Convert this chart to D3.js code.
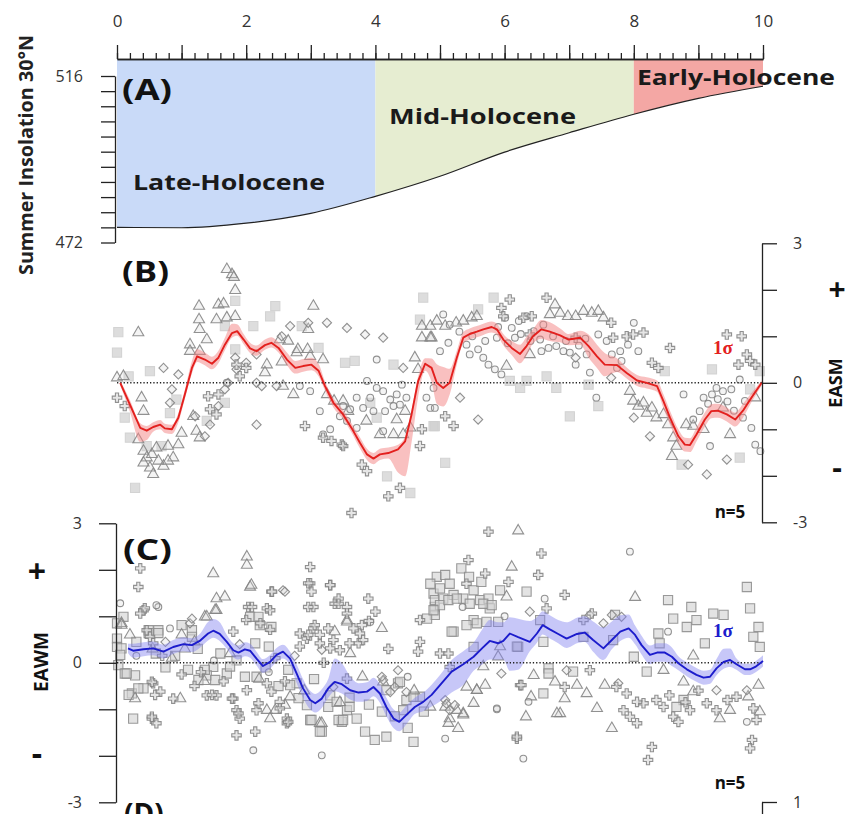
<!DOCTYPE html>
<html>
<head>
  <meta charset="UTF-8">
  <style>
    body { margin: 0; background: #fff; }
    text { font-family: "Open Sans", sans-serif; }
  </style>
</head>
<body>
<div id="chart"></div>
<script src="https://d3js.org/d3.v7.min.js"></script>
<script>

// ---- data (ka BP) ----

// summer insolation 30N
var insTime = [0, 1, 2, 3, 4, 5, 6, 7, 8, 9, 10];
var insValue = [476.0, 475.9, 477.1, 479.7, 484.2, 489.5, 495.9, 501.0, 505.9, 510.1, 513.3];

var periods = ["Late-Holocene", "Mid-Holocene", "Early-Holocene"];
var periodStart = [0, 4, 8];
var periodEnd = [4, 8, 10];

// EASM stack (panel B)
var easmTime = [0.05,0.2,0.36,0.46,0.56,0.67,0.74,0.85,0.95,1.05,1.16,1.24,1.36,1.47,1.57,1.67,1.78,1.86,1.96,2.06,
  2.16,2.29,2.39,2.5,2.63,2.76,2.88,3.01,3.12,3.22,3.35,3.5,3.63,3.76,3.87,3.97,4.07,4.2,4.35,4.46,
  4.56,4.66,4.77,4.87,4.95,5.05,5.15,5.26,5.36,5.46,5.57,5.67,5.8,5.88,5.98,6.11,6.24,6.34,6.44,6.57,
  6.7,6.86,6.99,7.17,7.3,7.43,7.55,7.74,7.89,8.05,8.2,8.36,8.46,8.56,8.69,8.79,8.87,8.97,9.1,9.2,
  9.3,9.44,9.57,9.69,9.82,9.98];
var easmMean = [0.0,-0.47,-0.97,-1.03,-0.95,-0.9,-0.98,-1.0,-0.75,-0.25,0.32,0.57,0.5,0.41,0.54,0.82,1.07,1.11,0.93,0.74,
  0.68,0.81,0.86,0.75,0.5,0.32,0.36,0.39,0.26,-0.07,-0.43,-0.68,-0.97,-1.29,-1.54,-1.63,-1.54,-1.51,-1.43,-1.26,
  -0.68,0.03,0.41,0.32,0.0,-0.11,0.0,0.54,0.97,1.05,1.1,1.15,1.2,1.15,0.93,0.75,0.62,0.79,1.0,1.15,
  1.1,1.02,0.93,0.97,0.79,0.57,0.39,0.38,0.21,0.05,0.0,-0.07,-0.4,-0.75,-1.15,-1.33,-1.34,-1.11,-0.79,-0.61,
  -0.6,-0.68,-0.79,-0.6,-0.32,0.0];
var easmSdLo = [0.05,0.15,0.3,0.2,0.1,0.1,0.1,0.1,0.1,0.1,0.12,0.12,0.12,0.12,0.12,0.12,0.1,0.1,0.1,0.1,
  0.1,0.1,0.1,0.1,0.12,0.12,0.12,0.12,0.12,0.1,0.1,0.1,0.1,0.12,0.12,0.12,0.12,0.12,0.5,0.75,
  0.6,0.35,0.15,0.3,0.45,0.4,0.25,0.15,0.12,0.12,0.12,0.12,0.12,0.12,0.12,0.15,0.2,0.2,0.15,0.2,
  0.2,0.15,0.12,0.15,0.25,0.25,0.25,0.15,0.12,0.12,0.12,0.12,0.15,0.15,0.15,0.15,0.15,0.15,0.15,0.15,
  0.15,0.15,0.15,0.15,0.1,0.05];
var easmSdHi = [0.05,0.1,0.1,0.1,0.1,0.1,0.1,0.1,0.1,0.1,0.15,0.15,0.15,0.15,0.15,0.15,0.2,0.15,0.12,0.12,
  0.12,0.12,0.12,0.12,0.15,0.15,0.15,0.15,0.15,0.1,0.1,0.1,0.1,0.12,0.12,0.12,0.12,0.12,0.1,0.1,
  0.1,0.1,0.12,0.2,0.4,0.45,0.3,0.15,0.12,0.12,0.12,0.12,0.12,0.12,0.12,0.15,0.2,0.2,0.15,0.2,
  0.2,0.15,0.12,0.15,0.25,0.25,0.25,0.15,0.12,0.12,0.12,0.12,0.15,0.15,0.15,0.15,0.15,0.15,0.15,0.15,
  0.15,0.15,0.15,0.15,0.1,0.05];

// EAWM stack (panel C)
var eawmTime = [0.17,0.25,0.41,0.56,0.72,0.87,1.03,1.16,1.28,1.41,1.49,1.59,1.7,1.8,1.88,1.98,2.06,2.16,2.26,2.37,
  2.47,2.57,2.68,2.78,2.88,2.99,3.07,3.17,3.27,3.37,3.48,3.61,3.74,3.87,3.97,4.07,4.17,4.28,4.37,4.48,
  4.61,4.74,4.87,5.0,5.18,5.36,5.52,5.65,5.77,5.9,5.98,6.08,6.21,6.39,6.5,6.59,6.7,6.83,6.96,7.12,
  7.24,7.37,7.53,7.66,7.79,7.92,8.02,8.12,8.25,8.36,8.48,8.59,8.69,8.82,8.97,9.08,9.18,9.28,9.39,9.49,
  9.59,9.72,9.8,9.88,10.0];
var eawmMean = [0.31,0.26,0.29,0.31,0.24,0.34,0.40,0.38,0.47,0.63,0.69,0.62,0.45,0.27,0.22,0.29,0.26,0.09,-0.07,0.02,
  0.17,0.24,0.09,-0.23,-0.55,-0.8,-0.87,-0.77,-0.55,-0.41,-0.46,-0.59,-0.64,-0.62,-0.52,-0.66,-0.95,-1.2,-1.27,-1.12,
  -0.95,-0.84,-0.69,-0.48,-0.19,-0.03,0.13,0.31,0.47,0.42,0.47,0.63,0.55,0.45,0.63,0.81,0.72,0.62,0.52,0.62,
  0.65,0.49,0.31,0.49,0.67,0.74,0.6,0.38,0.17,0.22,0.22,0.13,-0.01,-0.14,-0.26,-0.32,-0.3,-0.12,0.02,0.06,
  -0.03,-0.14,-0.14,-0.09,0.04];
var eawmSdLo = [0.1,0.15,0.15,0.15,0.15,0.15,0.15,0.15,0.15,0.15,0.15,0.15,0.15,0.15,0.15,0.15,0.15,0.15,0.15,0.15,
  0.15,0.15,0.15,0.2,0.2,0.2,0.2,0.2,0.2,0.2,0.2,0.2,0.2,0.2,0.2,0.2,0.2,0.2,0.2,0.2,
  0.15,0.2,0.25,0.35,0.45,0.45,0.3,0.35,0.4,0.35,0.4,0.8,0.7,0.2,0.2,0.2,0.2,0.2,0.2,0.2,
  0.2,0.25,0.25,0.2,0.2,0.2,0.2,0.2,0.2,0.2,0.2,0.2,0.15,0.15,0.15,0.15,0.15,0.15,0.15,0.15,
  0.12,0.12,0.12,0.12,0.12];
var eawmSdHi = [0.1,0.15,0.15,0.15,0.15,0.15,0.15,0.15,0.15,0.25,0.25,0.25,0.15,0.15,0.15,0.15,0.15,0.15,0.15,0.15,
  0.15,0.15,0.15,0.2,0.2,0.2,0.2,0.2,0.2,0.5,0.45,0.3,0.2,0.2,0.2,0.2,0.2,0.2,0.2,0.2,
  0.2,0.2,0.22,0.22,0.25,0.28,0.3,0.4,0.45,0.45,0.4,0.35,0.4,0.45,0.35,0.3,0.3,0.3,0.35,0.35,
  0.35,0.4,0.45,0.4,0.35,0.3,0.2,0.2,0.2,0.2,0.2,0.2,0.15,0.15,0.15,0.15,0.15,0.2,0.28,0.25,
  0.12,0.12,0.12,0.12,0.12];

// individual EASM records [age, z-score]
var easmSquares = [[0.02,1.09],[0.0,0.65],[0.18,0.14],[0.51,0.25],[0.12,-0.75],[0.2,-1.18],[0.46,-1.36],[0.69,-1.36],
  [0.82,-0.65],[0.28,-2.26],[1.83,1.76],[2.11,1.22],[2.37,1.43],[2.45,1.65],[1.67,1.22],[1.83,0.72],[2.86,1.22],
  [3.12,0.75],[3.53,0.43],[3.68,0.47],[4.28,0.39],[4.02,-0.75],[4.18,-2.01],[4.54,-2.37],[4.74,1.83],[4.69,1.36],
  [3.92,-0.43],[1.67,-0.43],[1.39,-0.82],[0.92,-0.36],[4.9,-0.93],[5.83,1.83],[5.59,1.58],[6.24,-0.11],[6.34,0.04],
  [6.65,0.14],[6.8,-0.11],[7.01,-0.72],[7.3,-0.04],[7.45,-0.5],[5.08,-1.72],[4.92,-0.93],[6.08,0.04],[9.21,0.29],
  [8.74,-1.76],[9.64,-1.61],[9.8,-0.14],[8.48,0.25],[9.95,0.25]];
var easmTriangles = [[1.7,2.44],[1.78,2.33],[1.81,2.27],[1.83,1.99],[1.27,1.65],[1.57,1.68],[1.65,1.7],[1.83,1.43],
  [1.27,1.36],[1.54,1.36],[1.7,1.4],[0.33,1.08],[1.28,1.15],[1.39,0.93],[1.13,0.82],[1.13,0.68],[1.28,0.68],
  [3.04,1.65],[2.96,1.15],[2.78,0.65],[2.99,0.57],[2.32,0.39],[2.29,0.22],[2.73,-0.25],[2.57,-0.07],[0.0,0.11],
  [0.1,0.14],[0.38,-0.32],[0.41,-0.61],[0.33,-1.22],[0.41,-1.47],[0.46,-1.61],[0.54,-1.54],[0.51,-1.83],[0.56,-1.97],
  [0.64,-1.68],[0.72,-1.79],[0.79,-1.36],[0.87,-1.61],[0.95,-1.33],[0.79,-1.68],[0.41,-1.72],[0.61,-1.4],[1.0,-1.08],
  [1.18,-0.72],[1.23,-1.04],[1.28,-1.18],[3.25,-0.25],[3.36,-0.39],[3.5,-0.39],[3.58,-0.61],[3.86,-0.82],[4.07,-1.11],
  [4.33,-0.79],[4.46,-0.61],[4.54,-0.97],[4.28,-1.11],[4.43,-1.11],[4.61,0.54],[4.72,1.22],[4.85,1.22],[4.72,0.97],
  [4.87,0.97],[4.66,0.29],[5.08,1.22],[5.25,1.29],[5.36,1.33],[5.49,1.4],[5.57,1.43],[4.95,1.33],[6.78,1.68],
  [6.86,1.5],[6.7,1.47],[6.98,1.43],[7.1,1.43],[7.22,1.54],[7.35,1.5],[7.45,1.54],[7.53,1.4],[7.94,-0.18],
  [7.99,-0.39],[8.07,-0.5],[8.15,-0.43],[8.2,-0.65],[8.28,-0.54],[8.35,-0.75],[8.46,-0.68],[8.53,-0.9],[8.61,-1.18],
  [8.59,-1.58],[8.66,-1.36],[8.81,-0.9],[8.92,-0.93],[9.08,-1.0],[9.49,-1.11],[9.38,-0.54],[9.88,-0.32],[6.39,0.61],
  [6.03,0.36],[4.85,0.97],[2.8,0.72],[2.95,0.72],[3.19,0.5],[2.65,0.9],[2.55,0.45],[2.52,0.93]];
var easmDiamonds = [[0.72,0.32],[0.85,-0.14],[0.95,0.18],[0.82,-0.43],[1.21,-0.72],[1.36,-1.15],[1.44,-0.9],
  [1.57,-0.5],[1.83,0.54],[1.85,0.29],[2.0,0.43],[2.16,0.61],[2.24,-0.07],[2.16,-0.9],[2.47,-0.07],[2.68,1.22],
  [2.96,1.29],[3.25,1.29],[3.56,1.18],[3.84,1.04],[4.12,0.97],[4.43,0.32],[1.72,0.0],[1.67,-0.14],[2.16,0.0],
  [2.55,1.0],[5.31,-0.32],[5.59,-0.79],[8.0,-0.75],[8.25,-1.15],[8.84,-1.76],[9.13,-1.97],[9.44,-1.65],[7.65,0.11],
  [7.1,0.54]];
var easmCircles = [[1.7,0.0],[3.19,-1.11],[3.3,-1.0],[3.14,-0.61],[3.5,-0.5],[3.61,-0.57],[3.71,-0.32],[3.87,0.04],
  [4.02,0.5],[4.02,-0.11],[4.12,-0.18],[4.23,-0.36],[4.33,-0.25],[4.41,-0.04],[3.92,-0.32],[3.81,-0.54],[4.15,-0.61],
  [4.28,-0.5],[4.38,-0.47],[4.48,-0.32],[3.71,-0.97],[3.45,-0.72],[3.56,-0.82],[2.99,-0.18],[2.83,-0.07],[4.12,-1.04],
  [4.79,-0.32],[4.85,-0.54],[3.97,-0.61],[4.9,-0.11],[4.92,-0.54],[5.05,1.47],[5.15,1.25],[5.13,0.86],[5.0,0.68],
  [5.41,0.82],[5.46,0.61],[5.59,0.72],[5.67,0.54],[5.75,0.39],[5.85,0.29],[5.95,0.18],[5.88,0.97],[6.01,1.4],
  [6.11,1.18],[6.22,1.33],[6.34,1.43],[6.16,0.97],[6.45,1.11],[6.55,0.93],[6.57,0.68],[6.68,0.75],[6.8,0.79],
  [6.91,0.68],[7.01,0.65],[7.1,0.39],[7.27,0.61],[7.32,0.22],[7.42,-0.32],[7.45,1.04],[7.58,0.9],[7.66,0.61],
  [7.79,0.68],[7.91,0.82],[8.0,1.29],[8.07,0.68],[7.81,0.47],[7.74,0.32],[8.77,-0.25],[8.92,-0.79],[9.18,-1.36],
  [9.02,-0.61],[9.08,-0.32],[9.21,-0.25],[9.28,-0.11],[9.38,-0.18],[9.51,-0.14],[9.64,0.07],[9.72,-0.39],[9.82,-0.97],
  [9.88,-1.33],[9.96,-1.47],[9.69,-0.75],[5.3,1.1],[5.5,1.0],[5.7,0.9],[5.9,1.2],[6.05,0.85],[6.25,1.05],[6.4,0.9],
  [6.6,1.25],[6.75,1.0],[6.95,0.9],[7.15,0.8],[7.25,0.95],[9.15,-0.45],[9.3,-0.35],[9.45,-0.4],[9.55,-0.6]];
var easmCrosses = [[0.0,-0.32],[0.12,-0.5],[1.41,-0.29],[1.57,-0.25],[1.44,-0.57],[1.54,-0.68],[1.9,0.14],[2.0,0.32],
  [1.85,0.39],[2.91,-0.93],[3.19,-1.18],[3.32,-1.25],[3.48,-1.33],[3.79,-1.76],[3.87,-1.9],[4.2,-2.44],[4.38,-2.26],
  [4.69,-1.36],[3.63,-2.8],[4.72,-1.0],[6.08,1.79],[6.65,1.83],[5.95,1.61],[5.98,1.43],[6.42,1.43],[6.29,1.4],
  [6.39,1.04],[7.1,0.97],[7.65,1.29],[7.68,0.97],[7.89,1.0],[7.99,1.04],[8.15,1.08],[8.56,0.75],[8.28,0.43],
  [8.38,0.32],[9.44,1.04],[9.67,1.0],[9.75,0.61],[9.8,0.47],[9.88,0.39],[9.62,0.39],[5.21,-0.93],[5.08,-0.72],
  [3.5,-1.36]];

// individual EAWM records [age, z-score]
var eawmSquares = [[0.0,0.85],[0.0,0.52],[0.1,0.99],[0.0,0.34],[0.02,-0.05],[0.12,-0.23],[0.28,-0.27],[0.23,-0.66],
  [0.25,-1.2],[0.41,-0.55],[0.49,0.7],[0.64,0.7],[1.0,0.81],[1.16,0.7],[1.49,-0.09],[1.39,-0.27],[1.7,-0.23],
  [2.06,0.99],[2.21,0.81],[2.39,0.77],[2.16,-0.3],[2.78,-0.44],[2.94,-0.91],[2.99,-1.23],[3.17,-1.48],[3.27,-0.95],
  [3.48,-1.27],[3.56,-1.02],[3.71,-1.2],[3.84,-1.48],[3.99,-1.66],[4.17,-1.59],[4.35,-0.44],[4.59,-1.7],[4.43,-1.02],
  [4.69,-0.73],[4.9,1.49],[4.92,1.2],[4.95,1.85],[5.08,1.89],[5.33,2.03],[4.92,1.35],[5.05,1.38],[5.21,1.46],
  [5.36,1.38],[5.52,1.56],[5.64,1.74],[5.62,1.35],[5.75,1.38],[5.93,1.56],[5.77,1.17],[6.34,1.53],[4.92,1.03],
  [5.21,0.67],[5.52,0.34],[5.52,0.92],[5.9,0.88],[6.21,0.34],[6.6,-0.66],[7.06,-0.19],[6.68,-0.12],[7.71,1.03],
  [8.53,1.35],[8.89,1.2],[8.61,0.95],[8.97,0.92],[8.82,0.77],[8.38,0.63],[9.1,0.42],[9.23,1.06],[9.39,1.03],
  [9.75,1.63],[9.8,1.17],[9.93,0.77],[9.85,0.56],[9.95,0.34],[8.2,-0.19],[8.77,-0.8],[8.66,-0.95],[7.22,0.56],
  [7.68,0.49],[8.0,0.13],[8.4,0.42],[0.3,0.45],[0.6,0.2],[0.75,-0.1],[0.9,0.15],[1.1,-0.15],[1.25,0.3],[1.6,0.2],
  [1.85,0.05],[2.3,-0.1],[2.5,-0.5],[2.65,-0.15],[3.05,-0.35],[3.3,-0.7],[3.6,-0.75],[3.9,-0.9],[4.1,-1.05],
  [4.3,-1.15],[4.5,-1.4],[4.75,-1.05],[4.8,0.95],[4.85,1.7],[5.0,1.6],[5.15,1.7],[5.45,1.85],
  [0.18,-0.69],[0.33,-0.55],[0.15,-0.23],[0.64,0.64],[0.49,0.64],[1.16,0.56],[1.36,-0.15],[2.19,0.99],[2.14,0.42],
  [2.35,0.35],[2.68,-0.48],[2.81,-0.76],[3.01,-1.23],[3.14,-1.48],[3.43,-1.23],[0.07,0.31],[0.05,0.17],[1.26,-0.37],
  [1.52,-0.37],[1.75,-0.08],[1.98,-0.3],[5.0,1.24],[5.13,1.35],[5.26,1.38],[5.46,1.27],[5.67,1.27],[5.8,1.24],
  [4.9,1.13],[5.41,0.81],[5.57,0.85],[5.72,0.88],[5.18,0.67],[6.55,0.92],[6.19,0.35],[6.6,0.45],[6.68,-0.23],
  [4.38,-0.41],[4.48,-0.8],[4.59,-0.73],[3.5,-1.23],[3.6,-0.95],[3.4,-0.84],[4.17,-0.59]];
var eawmTriangles = [[0.07,0.85],[0.28,-0.77],[1.49,1.92],[2.01,2.28],[2.01,2.1],[2.06,1.63],[1.54,1.38],[1.67,1.42],
  [1.54,1.13],[1.36,0.99],[0.98,-0.77],[1.0,0.6],[2.32,-1.02],[2.45,-1.02],[3.14,-1.3],[3.56,0.92],[4.1,0.74],
  [3.61,0.2],[4.12,-0.41],[4.85,-0.95],[2.68,-0.73],[6.21,2.84],[6.11,2.06],[6.03,1.42],[8.02,1.41],[8.92,0.15],
  [5.08,-0.95],[5.28,-1.41],[5.36,-1.09],[5.57,-0.59],[5.7,-0.48],[5.9,0.13],[6.45,-0.27],[6.78,-0.41],[6.86,-1.09],
  [6.93,-0.77],[7.12,-0.48],[7.27,-0.66],[7.43,-0.98],[7.55,-0.48],[7.66,-1.41],[8.46,-0.16],[8.77,-0.41],[8.92,-0.62],
  [9.33,-1.2],[9.49,-1.02],[9.77,-0.73],[9.95,-1.05],[9.93,-0.48],[5.15,-1.2],[5.26,-1.02],[5.52,-0.87],[0.2,0.6],
  [0.55,0.3],[0.85,0.1],[1.2,0.45],[1.75,0.2],[2.2,-0.35],[2.9,-0.6],[3.45,-0.85],[3.8,-0.3],[4.6,-0.6],[1.05,0.3],
  [1.35,-0.4],[2.08,1.67],[1.39,0.99],[1.52,1.13],[0.07,0.81],[2.37,-1.2],[2.6,-0.91],[3.17,-1.3],[3.37,0.67],
  [3.56,0.88],[5.67,-0.08],[5.41,-0.52],[5.57,-0.59],[5.36,-1.12],[5.13,-1.3],[6.41,-0.73],[6.81,-1.09],[6.33,-1.16],
  [5.93,0.35]];
var eawmDiamonds = [[2.57,1.56],[1.13,0.85],[4.12,-0.37],[4.35,-0.16],[4.3,-0.52],[3.35,-0.52],[5.95,-0.23],
  [6.39,1.1],[7.32,1.03],[7.66,1.03],[7.81,0.99],[7.53,0.85],[5.08,-0.8],[5.15,-1.02],[9.75,-0.59],[9.28,-0.59],
  [6.96,-0.16],[7.76,-0.44],[0.75,0.45],[1.9,0.4],[2.75,0.15],[2.6,1.53],[1.16,0.95],[3.17,0.28],[4.1,-0.3],
  [4.48,-0.63],[5.23,-0.91],[5.1,-0.88],[4.23,-0.63]];
var eawmCircles = [[0.05,1.28],[0.64,1.2],[0.82,0.74],[2.11,-1.88],[3.17,-1.99],[3.92,0.88],[7.94,2.39],[6.62,1.38],
  [8.53,0.67],[6.37,-0.84],[5.88,-1.0],[5.08,-1.63],[6.29,-2.06],[9.75,-1.27],[0.3,0.15],[1.5,0.05],[2.35,-0.2],
  [4.5,-0.3],[6.0,1.0],[5.35,1.2],[0.61,1.24],[5.88,-0.98]];
var eawmCrosses = [[0.36,2.03],[0.33,1.63],[0.41,1.13],[0.46,0.7],[0.51,0.56],[0.56,0.42],[0.56,-0.44],[0.67,-0.62],
  [0.54,-1.2],[0.61,-1.3],[0.87,-0.77],[1.39,-0.7],[1.54,-0.7],[1.8,-0.77],[1.85,-1.02],[1.9,-1.2],[1.85,-1.56],
  [2.14,-1.48],[2.16,-1.02],[2.01,-0.59],[2.32,-0.44],[2.39,-0.62],[2.52,-0.84],[2.63,-1.2],[2.63,-1.3],[2.03,1.2],
  [2.32,1.17],[2.39,1.53],[2.99,2.06],[2.99,1.71],[3.01,1.53],[3.04,1.2],[3.3,1.67],[3.43,1.38],[3.56,1.2],
  [3.56,1.06],[3.89,1.38],[3.66,0.74],[3.74,0.42],[3.76,0.63],[2.83,0.63],[2.94,0.52],[3.14,0.42],[3.3,0.31],
  [3.35,0.49],[3.04,0.74],[3.14,0.6],[3.45,0.27],[5.75,2.82],[6.57,2.35],[5.44,2.21],[5.7,1.92],[6.06,1.74],
  [6.52,1.89],[6.93,1.46],[6.65,1.17],[7.22,0.92],[7.35,1.06],[6.19,-1.63],[8.28,-1.81],[8.22,-2.09],[9.83,-1.66],
  [9.8,-1.84],[7.84,-1.02],[7.94,-1.16],[8.05,-1.3],[8.15,-0.87],[8.35,-0.8],[8.46,-0.95],[8.61,-1.16],[8.69,-1.27],
  [8.87,-1.02],[9.13,-0.87],[9.28,-1.02],[9.59,-0.73],[9.85,-0.98],[9.9,-1.23],[6.24,-0.48],[7.32,-0.16],[7.89,-0.66],
  [8.05,-0.84],[5.0,0.2],[5.15,-0.09],[6.93,-0.52],[7.73,-0.52],[0.7,0.15],[1.0,-0.25],[1.2,-0.5],[1.65,-0.4],
  [2.45,0.1],[2.6,-0.4],[3.2,0.0],[3.9,0.9],[4.0,1.1],[4.2,0.3],[1.3,-0.2],[8.55,-0.7],[8.8,-0.85],[9.0,-0.6],
  [9.45,-0.8],[0.43,1.17],[0.36,1.06],[0.54,-0.41],[0.59,-0.69],[0.54,-1.16],[1.47,-0.69],[1.78,-0.77],[1.88,-1.09],
  [2.19,-0.87],[2.52,-0.98],[2.65,-1.27],[2.4,1.53],[2.96,1.71],[3.3,1.67],[2.09,1.2],[2.37,1.13],[2.96,1.2],
  [3.37,1.27],[3.06,0.81],[3.27,0.74],[2.96,0.6],[2.0,0.92],[2.22,0.85],[2.37,0.71],[2.83,0.35],[1.8,0.67],
  [5.41,1.7],[3.43,1.27],[3.79,0.81],[3.81,0.49],[3.6,0.42],[4.69,0.45],[4.66,0.24],[4.69,0.92],[6.26,-0.48],
  [6.19,-1.59],[5.13,0.2],[3.56,-0.34]];

var topTicks = [0, 1, 2, 3, 4, 5, 6, 7, 8, 9, 10];
var insTicks = [472, 476, 480, 484, 488, 492, 496, 500, 504, 508, 512, 516];
var zTicks = [-3, -2, -1, 0, 1, 2, 3];

// ---- layout ----
var W = 845, H = 814;
var svg = d3.select("#chart").append("svg")
  .attr("width", W).attr("height", H);

var x = d3.scaleLinear().domain([0, 10]).range([117, 763]);
var yA = d3.scaleLinear().domain([472, 516]).range([242.5, 76]);
var yB = d3.scaleLinear().domain([-3, 3]).range([522.3, 243.3]);
var yC = d3.scaleLinear().domain([-3, 3]).range([802.3, 523.3]);
var yD = d3.scaleLinear().domain([-1, 1]).range([1000, 802]);
var axisTopY = 59;

function styleAxis(g) {
  g.select(".domain").attr("stroke", "#222").attr("stroke-width", 1.3);
  g.selectAll(".tick line").attr("stroke", "#222").attr("stroke-width", 1.3);
  g.selectAll(".tick text").attr("fill", "#333").style("font-size", "16px")
    .style("font-family", "'Open Sans', sans-serif");
}

// ---- panel A: insolation + periods ----
var periodColor = ["#c9daf8", "#e6edd1", "#f4a7a4"];
var ins = insTime.map(function(t, i) { return {t: t, v: insValue[i]}; });

periods.forEach(function(p, i) {
  var seg = ins.filter(function(d) { return d.t >= periodStart[i] && d.t <= periodEnd[i]; });
  svg.append("path")
    .datum(seg)
    .attr("fill", periodColor[i])
    .attr("d", d3.area()
      .x(function(d) { return x(d.t); })
      .y0(axisTopY)
      .y1(function(d) { return yA(d.v); })
      .curve(d3.curveMonotoneX));
});

svg.append("path")
  .datum(ins)
  .attr("fill", "none")
  .attr("stroke", "#222")
  .attr("stroke-width", 1.2)
  .attr("d", d3.line()
    .x(function(d) { return x(d.t); })
    .y(function(d) { return yA(d.v); })
    .curve(d3.curveMonotoneX));

// top age axis
svg.append("g")
  .attr("transform", "translate(0," + axisTopY + ")")
  .call(d3.axisTop(x).tickValues(d3.range(0, 10.001, 0.2)).tickSize(6).tickSizeOuter(0).tickFormat(""))
  .call(styleAxis);
svg.append("g")
  .attr("transform", "translate(0," + axisTopY + ")")
  .call(d3.axisTop(x).tickValues(topTicks).tickSize(14).tickSizeOuter(0).tickPadding(18)
    .tickFormat(function(d) { return d % 2 === 0 ? d : ""; }))
  .call(styleAxis)
  .call(function(g) { g.selectAll(".tick text").style("font-size", "17px"); });

// insolation axis
svg.append("g")
  .attr("transform", "translate(115,0)")
  .call(d3.axisLeft(yA).tickValues(insTicks).tickSize(14).tickSizeOuter(0).tickPadding(18)
    .tickFormat(function(d) { return (d === 472 || d === 516) ? d : ""; }))
  .call(styleAxis);

svg.append("text")
  .attr("transform", "translate(33,155) rotate(-90)")
  .attr("text-anchor", "middle")
  .attr("fill", "#222")
  .attr("textLength", 240).attr("lengthAdjust", "spacingAndGlyphs")
  .style("font-size", "19px").style("font-weight", 700)
  .text("Summer Insolation 30°N");

svg.append("text").attr("x", 122).attr("y", 100)
  .attr("textLength", 50).attr("lengthAdjust", "spacingAndGlyphs")
  .style("font-size", "28px").style("font-weight", 700).attr("fill", "#111").text("(A)");

var periodLabelX = [133, 389, 637];
var periodLabelY = [190, 124, 85];
var periodLabelW = [192, 187, 198];
periods.forEach(function(p, i) {
  svg.append("text").attr("x", periodLabelX[i]).attr("y", periodLabelY[i])
    .attr("textLength", periodLabelW[i]).attr("lengthAdjust", "spacingAndGlyphs")
    .style("font-size", "22px").style("font-weight", 700).attr("fill", "#1a1a1a").text(p);
});

// ---- scatter + stack helpers ----
var shapes = [
  {name: "square", type: d3.symbolSquare, size: 84, rot: 0},
  {name: "triangle", type: d3.symbolTriangle, size: 52, rot: 0},
  {name: "diamond", type: d3.symbolSquare, size: 42, rot: 45},
  {name: "circle", type: d3.symbolCircle, size: 36, rot: 0},
  {name: "cross", type: d3.symbolCross, size: 50, rot: 0}
];

function drawRecords(y, sets, squareStyle) {
  var g = svg.append("g");
  sets.forEach(function(data, k) {
    var s = shapes[k];
    var sym = d3.symbol().type(s.type).size(s.size);
    g.selectAll("path." + s.name)
      .data(data)
      .enter().append("path")
        .attr("class", s.name)
        .attr("d", sym)
        .attr("transform", function(d) {
          return "translate(" + x(d[0]) + "," + y(d[1]) + ") rotate(" + s.rot + ")";
        })
        .attr("fill", s.name === "square" ? squareStyle.fill : (s.name === "cross" ? "rgba(210,210,210,0.6)" : "rgba(215,215,215,0.3)"))
        .attr("stroke", s.name === "square" ? squareStyle.stroke : "#868686")
        .attr("stroke-width", 1.1)
        .attr("opacity", 0.9);
  });
}

function drawStack(y, time, mean, lo, hi, bandColor, lineColor) {
  var idx = d3.range(time.length);
  svg.append("path")
    .datum(idx)
    .attr("fill", bandColor)
    .attr("d", d3.area()
      .x(function(i) { return x(time[i]); })
      .y0(function(i) { return y(mean[i] - lo[i]); })
      .y1(function(i) { return y(mean[i] + hi[i]); })
      .curve(d3.curveMonotoneX));
  svg.append("line")
    .attr("x1", x(0)).attr("x2", x(10))
    .attr("y1", y(0)).attr("y2", y(0))
    .attr("stroke", "#222").attr("stroke-width", 1.4)
    .attr("stroke-dasharray", "1.3,2");
  svg.append("path")
    .datum(idx)
    .attr("fill", "none")
    .attr("stroke", lineColor)
    .attr("stroke-width", 1.9)
    .attr("stroke-linejoin", "round")
    .attr("d", d3.line()
      .x(function(i) { return x(time[i]); })
      .y(function(i) { return y(mean[i]); }));
}

// ---- panel B: EASM ----
drawRecords(yB, [easmSquares, easmTriangles, easmDiamonds, easmCircles, easmCrosses],
  {fill: "rgba(205,205,205,0.75)", stroke: "#cfcfcf"});
drawStack(yB, easmTime, easmMean, easmSdLo, easmSdHi, "rgba(244,130,130,0.5)", "#e3201e");

svg.append("g")
  .attr("transform", "translate(762,0)")
  .call(d3.axisRight(yB).tickValues(zTicks).tickSize(15).tickSizeOuter(0).tickPadding(16)
    .tickFormat(function(d) { return (d === 3 || d === 0 || d === -3) ? d : ""; }))
  .call(styleAxis);

svg.append("text").attr("x", 122).attr("y", 282)
  .attr("textLength", 47).attr("lengthAdjust", "spacingAndGlyphs")
  .style("font-size", "28px").style("font-weight", 700).attr("fill", "#111").text("(B)");
svg.append("text").attr("x", 723).attr("y", 354).attr("text-anchor", "middle")
  .style("font-family", "'Liberation Serif', serif").style("font-size", "19px").style("font-weight", 700)
  .attr("fill", "#e3201e").text("1σ");
svg.append("text").attr("x", 730).attr("y", 518).attr("text-anchor", "middle")
  .style("font-size", "17px").style("font-weight", 700).attr("fill", "#111").text("n=5");
svg.append("text")
  .attr("transform", "translate(842,383) rotate(-90)")
  .attr("text-anchor", "middle")
  .style("font-size", "18px").style("font-weight", 700).attr("fill", "#111").text("EASM");
svg.append("text").attr("x", 837).attr("y", 300).attr("text-anchor", "middle")
  .style("font-size", "30px").style("font-weight", 700).attr("fill", "#111").text("+");
svg.append("text").attr("x", 837).attr("y", 478).attr("text-anchor", "middle")
  .style("font-size", "30px").style("font-weight", 700).attr("fill", "#111").text("-");

// ---- panel C: EAWM ----
drawRecords(yC, [eawmSquares, eawmTriangles, eawmDiamonds, eawmCircles, eawmCrosses],
  {fill: "rgba(212,212,212,0.7)", stroke: "#8f8f8f"});
drawStack(yC, eawmTime, eawmMean, eawmSdLo, eawmSdHi, "rgba(130,130,240,0.45)", "#1c1ccc");

svg.append("g")
  .attr("transform", "translate(116,0)")
  .call(d3.axisLeft(yC).tickValues(zTicks).tickSize(17).tickSizeOuter(0).tickPadding(17)
    .tickFormat(function(d) { return (d === 3 || d === 0 || d === -3) ? d : ""; }))
  .call(styleAxis);

svg.append("text").attr("x", 123).attr("y", 560)
  .attr("textLength", 49).attr("lengthAdjust", "spacingAndGlyphs")
  .style("font-size", "28px").style("font-weight", 700).attr("fill", "#111").text("(C)");
svg.append("text").attr("x", 723).attr("y", 637).attr("text-anchor", "middle")
  .style("font-family", "'Liberation Serif', serif").style("font-size", "19px").style("font-weight", 700)
  .attr("fill", "#1c1ccc").text("1σ");
svg.append("text").attr("x", 730).attr("y", 789).attr("text-anchor", "middle")
  .style("font-size", "17px").style("font-weight", 700).attr("fill", "#111").text("n=5");
svg.append("text")
  .attr("transform", "translate(48,662) rotate(-90)")
  .attr("text-anchor", "middle")
  .style("font-size", "19px").style("font-weight", 700).attr("fill", "#111").text("EAWM");
svg.append("text").attr("x", 37).attr("y", 583).attr("text-anchor", "middle")
  .style("font-size", "32px").style("font-weight", 700).attr("fill", "#111").text("+");
svg.append("text").attr("x", 37).attr("y", 765).attr("text-anchor", "middle")
  .style("font-size", "32px").style("font-weight", 700).attr("fill", "#111").text("-");

// ---- panel D (only its top edge is in view) ----
svg.append("g")
  .attr("transform", "translate(762,0)")
  .call(d3.axisRight(yD).tickValues([1]).tickSize(15).tickSizeOuter(0).tickPadding(16)
    .tickFormat(d3.format("d")))
  .call(styleAxis);
svg.append("text").attr("x", 124).attr("y", 824)
  .style("font-size", "28px").style("font-weight", 700).attr("fill", "#111").text("(D)");

</script>
</body>
</html>
